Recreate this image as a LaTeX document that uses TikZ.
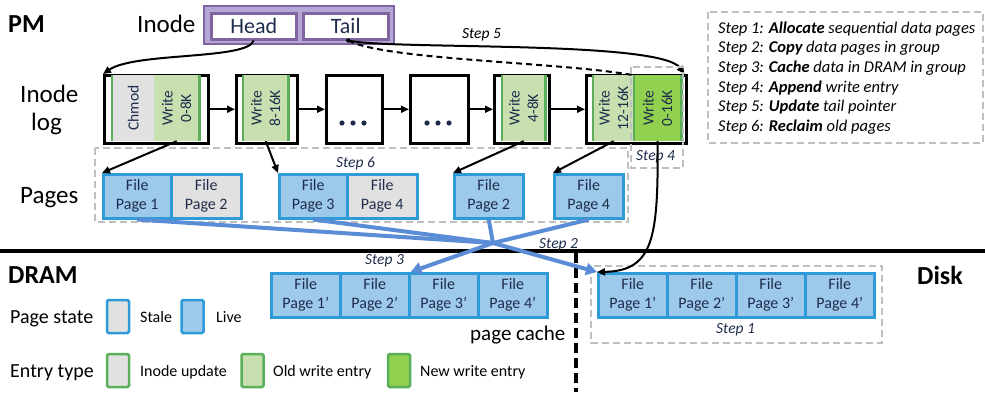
\documentclass[tikz,border=0pt]{standalone}
\usepackage{fontspec}
\setmainfont{Carlito}
\usetikzlibrary{arrows.meta}
\definecolor{navy}{HTML}{1F2D4D}
\definecolor{pblue}{HTML}{2E9BD8}
\definecolor{livef}{HTML}{9DC9EB}
\definecolor{stalef}{HTML}{E1E1E1}
\definecolor{gborder}{HTML}{5BAF5B}
\definecolor{oldg}{HTML}{C8E0B0}
\definecolor{newg}{HTML}{92D050}
\definecolor{lav}{HTML}{B4A7D6}
\definecolor{purp}{HTML}{8064A2}
\definecolor{barrow}{HTML}{5B8CD6}
\definecolor{gdashc}{HTML}{BFBFBF}
\begin{document}
\begin{tikzpicture}[x=1pt,y=-1pt,
  lab/.style={inner sep=0, anchor=base west},
  biglab/.style={lab, font=\fontsize{25}{30}\selectfont},
  boldlab/.style={lab, font=\fontsize{26}{30}\selectfont\bfseries},
  steplab/.style={lab, text=navy, font=\fontsize{15.5}{18}\selectfont\itshape},
  listlab/.style={lab, font=\fontsize{16.5}{19}\selectfont\itshape},
  leglab/.style={lab, font=\fontsize{20}{24}\selectfont},
  legsm/.style={lab, font=\fontsize{16}{19}\selectfont},
  pagebox/.style={draw=pblue, line width=2.5pt, fill=livef, text=navy, align=center,
     inner sep=0, minimum height=44, anchor=north west, font=\fontsize{16}{19}\selectfont},
  stalebox/.style={pagebox, fill=stalef},
  logbox/.style={draw=black, line width=2.5pt, fill=white, minimum height=68, anchor=north west, inner sep=0},
  entry/.style={draw=none, minimum height=65.5, inner sep=0, anchor=north west},
  etext/.style={rotate=90, text=navy, align=center, inner sep=0, font=\fontsize{15.5}{18.5}\selectfont},
  gline/.style={draw=gborder, line width=2.5pt},
  gdash/.style={draw=gdashc, line width=2.5pt, dash pattern=on 7pt off 4pt},
  barr/.style={draw=barrow, line width=4pt, line join=round},
  karr/.style={draw=black, line width=2pt, -{Triangle[length=8pt,width=7pt]}},
  swatch/.style={line width=2.5pt, minimum width=22, minimum height=33, inner sep=0, rounded corners=1.5pt},
]
\useasboundingbox (0,0) rectangle (985,392);

% ---------- top labels ----------
\node[boldlab] (pm) at (8,32) {PM};
\node[biglab] (inodelab) at (137,32) {Inode};
\node[biglab] (inodelog) at (20,102) {Inode};
\node[biglab] (loglab) at (31,130) {log};
\node[biglab] (pageslab) at (20,203) {Pages};

% ---------- inode ----------
\node[draw=purp, fill=lav, line width=2pt, minimum width=190, minimum height=38, anchor=north west, inner sep=0] (inode) at (203,5) {};
\node[draw=purp, fill=white, line width=2.5pt, minimum width=85, minimum height=26, anchor=north west, inner sep=0,
      text=navy, font=\fontsize{22}{26}\selectfont] (head) at (210,12) {Head};
\node[draw=purp, fill=white, line width=2.5pt, minimum width=85, minimum height=26, anchor=north west, inner sep=0,
      text=navy, font=\fontsize{22}{26}\selectfont] (tail) at (302,12) {Tail};

% ---------- log boxes ----------
\node[logbox, minimum width=104] (b1) at (103,74) {};
\node[logbox, minimum width=61] (b2) at (235,74) {};
\node[logbox, minimum width=56] (b3) at (325,74) {};
\node[logbox, minimum width=58] (b4) at (409,74) {};
\node[logbox, minimum width=55] (b5) at (493,74) {};
\node[logbox, minimum width=100] (b6) at (585,74) {};

\node[entry, fill=stalef, minimum width=42] (e1c) at (112,75.25) {};
\node[entry, fill=oldg, minimum width=45] (e1w) at (154,75.25) {};
\node[entry, fill=oldg, minimum width=45] (e2) at (243,75.25) {};
\node[entry, fill=oldg, minimum width=43] (e5) at (502,75.25) {};
\node[entry, fill=oldg, minimum width=41] (e6o) at (593,75.25) {};
\node[entry, fill=newg, minimum width=47] (e6n) at (634,75.25) {};

\draw[gline] (e1c.north west) -- (e1c.south west);
\draw[gline] (e1w.north east) -- (e1w.south east);
\draw[gline] (e2.north west) -- (e2.south west);
\draw[gline] (e2.north east) -- (e2.south east);
\draw[gline] (e5.north west) -- (e5.south west);
\draw[gline] (e5.north east) -- (e5.south east);
\draw[gline] (e6o.north west) -- (e6o.south west);
\draw[gline] (e6n.north west) -- (e6n.south west);
\draw[gline] (e6n.north east) -- (e6n.south east);

\node[etext] (t1c) at (e1c.center) {Chmod};
\node[etext] (t1w) at (e1w.center) {Write\\0-8K};
\node[etext] (t2) at (e2.center) {Write\\8-16K};
\node[etext] (t5) at (e5.center) {Write\\4-8K};
\node[etext] (t6o) at (e6o.center) {Write\\12-16K};
\node[etext] (t6n) at (e6n.center) {Write\\0-16K};

\foreach \cx in {353,438} {
  \foreach \dx in {-11,0,11} { \fill[navy] (\cx+\dx,123) circle (2.6pt); }
}

\draw[karr] (b1) -- (b2);
\draw[karr] (b2) -- (b3);
\draw[karr] (b3) -- (b4);
\draw[karr] (b4) -- (b5);
\draw[karr] (b5) -- (b6);

% ---------- pointers ----------
\draw[karr] (head.south) .. controls (248,60) and (135,52) .. (b1.north west);
\draw[black, line width=2pt, dash pattern=on 6pt off 4pt] ([xshift=2.5pt]tail.south) .. controls (385,60) and (560,62) .. (e6n.north west);
\draw[karr] ([xshift=2.5pt]tail.south) .. controls (390,50) and (660,40) .. ([xshift=-3pt]b6.north east);
\fill[black] ([xshift=2.5pt]tail.south) circle (2.2pt);
\node[steplab, text=black] (s5) at (462,38) {Step 5};

% ---------- pages ----------
\draw[gdash] (95,148) rectangle (628,222);
\node[pagebox, minimum width=68] (p1) at (102,173) {File\\Page 1};
\node[stalebox, minimum width=70] (p2) at (170,173) {File\\Page 2};
\node[pagebox, minimum width=68] (p3) at (278,173) {File\\Page 3};
\node[stalebox, minimum width=70] (p4) at (346,173) {File\\Page 4};
\node[pagebox, minimum width=69] (q2) at (453,173) {File\\Page 2};
\node[pagebox, minimum width=69] (q4) at (553,173) {File\\Page 4};
\node[steplab] (s6) at (336,167) {Step 6};

\draw[karr] (e1w.south) -- (p1.north west);
\draw[karr] (e2.south) -- (p3.north west);
\draw[karr] (e5.south) -- (q2.north west);
\draw[karr] (e6o.south) -- (q4.north west);

% step 4 box
\draw[gdash] (631,67) rectangle (683,168);
\node[steplab] (s4) at (636,160) {Step 4};

% ---------- divider ----------
\draw[line width=4pt] (0,251) -- (985,251);
\draw[line width=4.5pt, dash pattern=on 10pt off 5pt] (576,253) -- (576,392);
\node[boldlab] (dram) at (8,283) {DRAM};
\node[boldlab] (disk) at (917,284) {Disk};

% ---------- DRAM page cache ----------
\node[pagebox, minimum width=69] (c1) at (270,272) {File\\Page 1’};
\node[pagebox, minimum width=69] (c2) at (339,272) {File\\Page 2’};
\node[pagebox, minimum width=69] (c3) at (408,272) {File\\Page 3’};
\node[pagebox, minimum width=69] (c4) at (477,272) {File\\Page 4’};
\node[lab, font=\fontsize{21}{25}\selectfont] (pc) at (470,340) {page cache};

% ---------- Disk ----------
\draw[gdash] (591,266) rectangle (882,343);
\node[pagebox, minimum width=69] (d1) at (597,272) {File\\Page 1’};
\node[pagebox, minimum width=69] (d2) at (666,272) {File\\Page 2’};
\node[pagebox, minimum width=69] (d3) at (735,272) {File\\Page 3’};
\node[pagebox, minimum width=69] (d4) at (804,272) {File\\Page 4’};
\node[steplab] (s1) at (716,333) {Step 1};

% ---------- blue copy arrows ----------
\coordinate (J) at (493,243);
\draw[barr] (p1.south) -- (J);
\draw[barr] (p3.south) -- (J);
\draw[barr] (q2.south) -- (J);
\draw[barr] (q4.south) -- (J);
\draw[barr, -{Triangle[length=11pt,width=12pt]}] (J) -- (c2.north east);
\draw[barr, -{Triangle[length=11pt,width=12pt]}] (J) -- (d1.north west);
\node[steplab] (s2) at (539,248) {Step 2};
\node[steplab] (s3) at (365,264) {Step 3};

% black arrow from new entry to disk
\draw[karr] (e6n.south) .. controls (658,235) and (655,271) .. (d1.north west);

% ---------- step list ----------
\draw[gdash] (708,12) rectangle (983,143);
\node[listlab] (l1) at (718,33) {Step 1: \textbf{Allocate} sequential data pages};
\node[listlab] (l2) at (718,52.7) {Step 2: \textbf{Copy} data pages in group};
\node[listlab] (l3) at (718,72.4) {Step 3: \textbf{Cache} data in DRAM in group};
\node[listlab] (l4) at (718,92.1) {Step 4: \textbf{Append} write entry};
\node[listlab] (l5) at (718,111.8) {Step 5: \textbf{Update} tail pointer};
\node[listlab] (l6) at (718,131.5) {Step 6: \textbf{Reclaim} old pages};

% ---------- legend ----------
\node[leglab] (ps) at (10,323) {Page state};
\node[swatch, draw=pblue, fill=stalef] (sw1) at (118,316.5) {};
\node[legsm] (stale) at (140,322) {Stale};
\node[swatch, draw=pblue, fill=livef] (sw2) at (192.5,316.5) {};
\node[legsm] (live) at (216,322) {Live};

\node[leglab] (et) at (10,377) {Entry type};
\node[swatch, draw=gborder, fill=stalef] (sw3) at (118,370.5) {};
\node[legsm] (iu) at (140,376) {Inode update};
\node[swatch, draw=gborder, fill=oldg] (sw4) at (252.5,370.5) {};
\node[legsm] (ow) at (273,376) {Old write entry};
\node[swatch, draw=gborder, fill=newg] (sw5) at (399,370.5) {};
\node[legsm] (nw) at (420,376) {New write entry};
\end{tikzpicture}
\end{document}
